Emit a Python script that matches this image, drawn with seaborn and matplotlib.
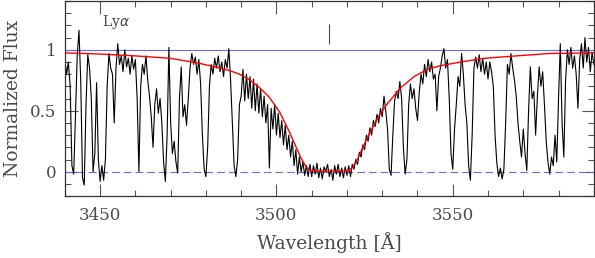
import numpy as np
import pandas as pd
import matplotlib
matplotlib.use("Agg")
import matplotlib.pyplot as plt
import seaborn as sns
from matplotlib.ticker import MultipleLocator

# ------------------------------------------------------------
# DATA (0.5 A sampling)
# ------------------------------------------------------------
WAVE_START, WAVE_STEP = 3440.0, 0.5

flux_3440 = [0.92, 0.80, 0.90, 0.70, 0.05, -0.02, 0.45, 0.95, 1.16, 0.75,
             -0.05, -0.11, 0.55, 0.96, 0.85, 0.60, 0.00, 0.15, 0.73, 0.10]
flux_3450 = [-0.08, 0.05, -0.07, 0.10, 0.70, 0.97, 0.85, 0.80, 0.40, 0.85,
             1.05, 0.88, 0.95, 0.82, 1.00, 0.86, 0.93, 0.80, 0.95, 0.84]
flux_3460 = [0.92, 0.60, 0.00, 0.70, 0.88, 0.80, 0.95, 0.75, 0.62, 0.45,
             0.20, 0.55, 0.68, 0.48, 0.60, 0.40, 0.08, -0.08, 0.30, 1.02]
flux_3470 = [0.40, 0.15, 0.25, 0.08, -0.01, 0.60, 0.86, 0.45, 0.55, 0.38,
             0.60, 0.85, 0.97, 0.88, 0.94, 0.80, 0.92, 0.72, 0.30, 0.02]
flux_3480 = [-0.04, 0.20, 0.70, 0.88, 0.80, 0.93, 0.85, 0.95, 0.82, 0.90,
             0.78, 0.92, 0.85, 1.01, 0.75, 0.40, 0.05, -0.04, 0.10, 0.55]
flux_3490 = [0.62, 0.84, 0.58, 0.80, 0.60, 0.78, 0.52, 0.76, 0.50, 0.72,
             0.48, 0.68, 0.45, 0.62, 0.40, 0.55, 0.03, 0.52, 0.35, 0.55]
flux_3500 = [0.30, 0.48, 0.28, 0.42, 0.22, 0.38, 0.18, 0.30, 0.12, 0.25,
             0.05, 0.18, -0.02, 0.12, 0.00, 0.08, -0.03, 0.05, -0.04, 0.06]
flux_3510 = [-0.04, 0.05, -0.02, 0.07, -0.05, 0.03, -0.06, 0.04, 0.00, 0.06,
             -0.04, 0.02, -0.07, 0.05, -0.02, 0.06, -0.04, 0.03, -0.05, 0.04]
flux_3520 = [-0.03, 0.05, -0.04, 0.06, 0.02, 0.10, 0.06, 0.16, 0.12, 0.22,
             0.18, 0.30, 0.25, 0.36, 0.30, 0.42, 0.37, 0.47, 0.40, 0.52]
flux_3530 = [0.45, 0.62, 0.50, 0.35, 0.02, -0.03, 0.30, 0.58, 0.66, 0.60,
             0.74, 0.60, 0.20, -0.02, 0.10, 0.55, 0.72, 0.60, 0.68, 0.52]
flux_3540 = [0.42, 0.65, 0.80, 0.72, 0.88, 0.78, 0.92, 0.82, 0.90, 0.76,
             0.80, 0.50, 0.78, 0.85, 0.95, 1.01, 0.85, 0.92, 0.60, 0.15]
flux_3550 = [0.02, 0.35, 0.55, 0.78, 0.70, 0.97, 0.80, 0.55, 0.40, 0.05,
             -0.07, 0.30, 0.85, 0.94, 0.85, 0.96, 0.82, 0.93, 0.80, 0.90]
flux_3560 = [0.76, 0.90, 0.82, 0.70, 0.30, 0.07, -0.04, 0.03, -0.06, 0.02,
             0.40, 0.88, 0.80, 0.97, 0.85, 0.75, 0.62, 0.40, 0.25, 0.12]
flux_3570 = [0.35, 0.15, 0.01, 0.50, 0.86, 0.60, 0.66, 0.30, 0.62, 0.86,
             0.70, 0.82, 0.55, 0.25, 0.08, -0.02, 0.12, 0.05, 0.30, 0.08]
flux_3580 = [0.60, 1.05, 0.40, 0.12, 0.75, 1.00, 0.88, 1.02, 0.85, 0.95,
             0.80, 0.52, 0.92, 1.05, 0.85, 1.10, 0.90, 1.02, 0.82, 0.98,
             0.88]

# Damped Ly-alpha model profile (red)
model_wave = [3440, 3450, 3460, 3470, 3478, 3484, 3486.7, 3489.5, 3492.4,
              3495.2, 3498.0, 3500.9, 3503.7, 3505.6, 3507.0, 3508.4, 3509.8,
              3520.3, 3521.7, 3523.1, 3524.5, 3526.3, 3529.1, 3531.5, 3535.3,
              3539, 3542.8, 3546.6, 3552.3, 3558.9, 3568, 3577.5, 3590]
model_flux = [0.975, 0.965, 0.95, 0.93, 0.89, 0.85, 0.83, 0.80, 0.754,
              0.69, 0.61, 0.49, 0.325, 0.20, 0.11, 0.04, 0.005,
              0.005, 0.04, 0.11, 0.20, 0.31, 0.46, 0.56, 0.69,
              0.78, 0.84, 0.87, 0.90, 0.93, 0.95, 0.97, 0.975]

# absorber marker at the top
marker_wave = 3515.0
marker_span = (1.05, 1.21)

line_label = r"Ly$\alpha$"

# ------------------------------------------------------------
# TABLES
# ------------------------------------------------------------
flux = np.concatenate([flux_3440, flux_3450, flux_3460, flux_3470,
                       flux_3480, flux_3490, flux_3500, flux_3510,
                       flux_3520, flux_3530, flux_3540, flux_3550,
                       flux_3560, flux_3570, flux_3580])
wave = WAVE_START + WAVE_STEP * np.arange(len(flux))
spec_df = pd.DataFrame({"wave": wave, "flux": flux})
model_df = pd.DataFrame({"wave": model_wave, "flux": model_flux})

# ------------------------------------------------------------
# PLOT
# ------------------------------------------------------------
sns.set_theme(style="ticks")
plt.rcParams["font.family"] = ["DejaVu Serif"]

TXT = "#4a4a4a"
BLUE = "#6b6be0"

fig = plt.figure(figsize=(5.95, 2.58), dpi=100)
ax = fig.add_axes([0.109, 0.240, 0.889, 0.756])

ax.axhline(1.0, color=BLUE, lw=0.8, zorder=1)
ax.axhline(0.0, color=BLUE, lw=0.8, ls=(0, (7, 3.5)), zorder=1)

sns.lineplot(data=spec_df, x="wave", y="flux", ax=ax, color="black",
             lw=0.8, estimator=None, sort=False, zorder=2)
sns.lineplot(data=model_df, x="wave", y="flux", ax=ax, color="#ff0000",
             lw=1.0, estimator=None, sort=False, zorder=3)

ax.vlines(marker_wave, *marker_span, color=TXT, lw=0.8)
ax.text(3450.5, 1.23, line_label, color=TXT, fontsize=10,
        ha="left", va="center")

ax.set_xlim(3440, 3590)
ax.set_ylim(-0.2, 1.4)
ax.xaxis.set_major_locator(MultipleLocator(50))
ax.xaxis.set_minor_locator(MultipleLocator(10))
ax.set_yticks([0, 0.5, 1])
ax.set_yticklabels(["0", "0.5", "1"])
ax.yaxis.set_minor_locator(MultipleLocator(0.1))

ax.tick_params(which="both", direction="in", top=True, right=True,
               color="#555555", width=0.8, labelcolor=TXT, labelsize=12)
ax.tick_params(which="major", length=9)
ax.tick_params(which="minor", length=4.5)
ax.tick_params(axis="x", pad=8)
ax.tick_params(axis="y", pad=6)

for sp in ax.spines.values():
    sp.set_color("#333333")
    sp.set_linewidth(0.9)

ax.set_xlabel("Wavelength [Å]", color=TXT, fontsize=13.5, labelpad=6)
ax.set_ylabel("Normalized Flux", color=TXT, fontsize=13.5, labelpad=6)

fig.savefig("out.png", dpi=100)
